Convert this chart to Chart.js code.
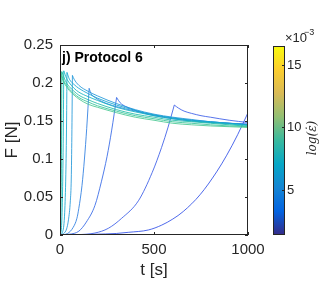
<!DOCTYPE html>
<html>
<head>
<meta charset="utf-8">
<script src="https://cdn.jsdelivr.net/npm/chart.js@4.4.1/dist/chart.umd.min.js"></script>
<style>
  html, body { margin: 0; padding: 0; background: #fff; }
  canvas { display: block; }
</style>
</head>
<body>
<canvas id="chart" width="328" height="293"></canvas>
<script>
// Axis ticks
const xTicks = [0, 500, 1000];
const yTicks = [0, 0.05, 0.1, 0.15, 0.2, 0.25];
const cbarTicks = [5, 10, 15];      // x 10^-3
const cbarRange = [1.4, 16.5];

// Curves, fastest ramp first (t in s, F in N)
const t2 = [0, 1, 2, 10, 20, 35, 50, 75, 100, 150, 200, 300, 400, 500, 600, 700, 800, 900, 1000];
const f2 = [0, 0.1, 0.213, 0.207, 0.201, 0.195, 0.19, 0.184, 0.179, 0.172, 0.168, 0.161, 0.155, 0.151, 0.147, 0.145, 0.1435, 0.1425, 0.1415];

const t5 = [0, 2, 4, 5, 10, 20, 35, 50, 75, 100, 150, 200, 300, 400, 500, 600, 700, 800, 900, 1000];
const f5 = [0, 0.03, 0.12, 0.215, 0.21, 0.203, 0.197, 0.192, 0.186, 0.181, 0.175, 0.17, 0.163, 0.157, 0.153, 0.149, 0.147, 0.145, 0.1435, 0.1425];

const t10 = [0, 4, 7, 9, 10, 20, 35, 50, 75, 100, 150, 200, 300, 400, 500, 600, 700, 800, 900, 1000];
const f10 = [0, 0.02, 0.08, 0.16, 0.215, 0.208, 0.2, 0.195, 0.189, 0.184, 0.178, 0.173, 0.165, 0.159, 0.155, 0.151, 0.149, 0.147, 0.145, 0.143];

const t20 = [0, 8, 13, 17, 20, 35, 50, 75, 100, 150, 200, 300, 400, 500, 600, 700, 800, 900, 1000];
const f20 = [0, 0.01, 0.05, 0.12, 0.216, 0.206, 0.2, 0.193, 0.188, 0.182, 0.177, 0.168, 0.162, 0.157, 0.153, 0.15, 0.148, 0.146, 0.144];

const t37 = [0, 15, 25, 31, 35, 37, 50, 75, 100, 150, 200, 300, 400, 500, 600, 700, 800, 900, 1000];
const f37 = [0, 0.005, 0.03, 0.08, 0.15, 0.214, 0.205, 0.198, 0.193, 0.186, 0.18, 0.171, 0.164, 0.158, 0.154, 0.151, 0.149, 0.147, 0.145];

const t65 = [0, 20, 35, 45, 55, 60, 63, 66, 75, 100, 150, 200, 300, 400, 500, 600, 700, 800, 900, 1000];
const f65 = [0, 0.002, 0.008, 0.02, 0.045, 0.075, 0.13, 0.21, 0.205, 0.197, 0.189, 0.183, 0.173, 0.165, 0.159, 0.155, 0.152, 0.149, 0.147, 0.145];

const t150 = [0, 40, 70, 90, 100, 117, 130, 142, 155, 165, 186, 220, 260, 300, 400, 500, 600, 700, 800, 900, 1000];
const f150 = [0, 0.002, 0.01, 0.022, 0.035, 0.065, 0.1, 0.14, 0.193, 0.186, 0.181, 0.176, 0.172, 0.169, 0.163, 0.158, 0.154, 0.151, 0.149, 0.147, 0.1455];

const t300 = [0, 50, 100, 140, 186, 220, 250, 275, 301, 320, 350, 400, 450, 500, 600, 700, 800, 900, 1000];
const f300 = [0, 0.001, 0.005, 0.017, 0.039, 0.07, 0.103, 0.138, 0.181, 0.174, 0.169, 0.164, 0.16, 0.157, 0.153, 0.15, 0.148, 0.147, 0.146];

const t600 = [0, 100, 186, 257, 328, 417, 490, 540, 575, 608, 630, 660, 700, 750, 800, 900, 1000];
const f600 = [0, 0.0005, 0.0026, 0.0088, 0.022, 0.045, 0.082, 0.115, 0.142, 0.171, 0.167, 0.163, 0.16, 0.157, 0.155, 0.151, 0.148];

const t1200 = [0, 100, 186, 300, 363, 470, 541, 600, 656, 745, 833, 887, 945, 1000];
const f1200 = [0, 0.0004, 0.001, 0.002, 0.0035, 0.0066, 0.013, 0.021, 0.031, 0.053, 0.083, 0.105, 0.132, 0.161];

const curveT = [t2, t5, t10, t20, t37, t65, t150, t300, t600, t1200];
const curveF = [f2, f5, f10, f20, f37, f65, f150, f300, f600, f1200];
const curveColors = ['rgba(69,200,144,0.85)', 'rgba(53,195,152,0.85)', 'rgba(32,188,168,0.85)',
                     'rgba(16,180,192,0.85)', 'rgba(20,166,208,0.85)', 'rgba(33,150,216,0.85)',
                     'rgba(43,124,224,0.85)', 'rgba(51,102,230,0.85)', 'rgba(58,92,232,0.85)',
                     'rgba(47,79,232,0.85)'];

const parula = ['#352a87', '#0363e1', '#1485d4', '#06a7c6', '#38b99e',
                '#92bf73', '#d9ba56', '#fcce2e', '#f9fb0e'];

const FONT = '"Liberation Sans", Arial, Helvetica, sans-serif';
const INK = '#262626';

// each curve = loading ramp + relaxation, split at the peak so the corner stays sharp
const datasets = [];
curveT.forEach((ts, i) => {
  const fs = curveF[i];
  const pts = ts.map((t, j) => ({ x: t, y: fs[j] }));
  const k = fs.indexOf(Math.max(...fs));
  [pts.slice(0, k + 1), pts.slice(k)].forEach(part => {
    if (part.length < 2) return;
    datasets.push({
      data: part,
      borderColor: curveColors[i],
      borderWidth: 1,
      pointRadius: 0,
      showLine: true,
      fill: false,
      cubicInterpolationMode: 'monotone'
    });
  });
});

const decor = {
  id: 'decor',
  afterDraw(chart) {
    const c = chart.ctx;
    const a = chart.chartArea;
    const xs = chart.scales.x, ys = chart.scales.y;
    c.save();
    // frame + inward ticks
    c.strokeStyle = INK;
    c.lineWidth = 1;
    c.strokeRect(a.left + 0.5, a.top + 0.5, a.right - a.left - 1, a.bottom - a.top - 1);
    c.beginPath();
    yTicks.forEach(v => {
      const y = Math.round(ys.getPixelForValue(v)) + 0.5;
      c.moveTo(a.left, y); c.lineTo(a.left + 3, y);
      c.moveTo(a.right, y); c.lineTo(a.right - 3, y);
    });
    xTicks.forEach(v => {
      const x = Math.round(xs.getPixelForValue(v)) + 0.5;
      c.moveTo(x, a.bottom); c.lineTo(x, a.bottom - 3);
      c.moveTo(x, a.top); c.lineTo(x, a.top + 3);
    });
    c.stroke();

    // panel label
    c.fillStyle = '#000';
    c.font = 'bold 14px ' + FONT;
    c.textBaseline = 'alphabetic';
    c.textAlign = 'left';
    c.fillText('j) Protocol 6', a.left + 2, a.top + 17);

    // colorbar
    const cx0 = 273, cx1 = 285, cy0 = 46, cy1 = 235;
    const g = c.createLinearGradient(0, cy1, 0, cy0);
    parula.forEach((col, i) => g.addColorStop(i / (parula.length - 1), col));
    c.fillStyle = g;
    c.fillRect(cx0, cy0, cx1 - cx0, cy1 - cy0);
    c.strokeStyle = INK;
    c.strokeRect(cx0 + 0.5, cy0 + 0.5, cx1 - cx0 - 1, cy1 - cy0 - 1);
    c.font = '13px ' + FONT;
    c.fillStyle = INK;
    c.textBaseline = 'middle';
    c.beginPath();
    cbarTicks.forEach(v => {
      const y = Math.round(cy1 - (v - cbarRange[0]) / (cbarRange[1] - cbarRange[0]) * (cy1 - cy0)) + 0.5;
      c.moveTo(cx1, y); c.lineTo(cx1 - 3, y);
      c.fillText(String(v), cx1 + 2, y);
    });
    c.stroke();
    // exponent
    c.font = '13px ' + FONT;
    c.fillText('\u00d710', 285, 38);
    c.font = '9px ' + FONT;
    c.fillText('\u22123', 304, 33);
    // colorbar label
    c.translate(313, 138);
    c.rotate(-Math.PI / 2);
    c.textAlign = 'center';
    c.font = 'italic 12px "DejaVu Serif", "Liberation Serif", serif';
    c.fillText('log(\u03b5\u0307)', 0, 0);
    c.restore();
  }
};

new Chart(document.getElementById('chart'), {
  type: 'scatter',
  data: { datasets },
  options: {
    responsive: false,
    animation: false,
    devicePixelRatio: 1,
    layout: { padding: { top: 45, right: 80, left: 0, bottom: 0 } },
    plugins: { legend: { display: false }, tooltip: { enabled: false } },
    scales: {
      x: {
        type: 'linear', min: 0, max: 1000,
        afterBuildTicks: s => { s.ticks = xTicks.map(v => ({ value: v })); },
        afterFit: s => { s.height = 58; },
        grid: { display: false, drawTicks: false },
        border: { display: false },
        ticks: { font: { family: FONT, size: 15 }, color: INK, padding: 6, maxRotation: 0, callback: v => String(v) },
        title: { display: true, text: 't [s]', color: INK, font: { family: FONT, size: 17 }, padding: { top: 0, bottom: 12 } }
      },
      y: {
        type: 'linear', min: 0, max: 0.25,
        afterBuildTicks: s => { s.ticks = yTicks.map(v => ({ value: v })); },
        afterFit: s => { s.width = 60; },
        grid: { display: false, drawTicks: false },
        border: { display: false },
        ticks: { font: { family: FONT, size: 15 }, color: INK, padding: 7, callback: v => String(v) },
        title: { display: true, text: 'F [N]', color: INK, font: { family: FONT, size: 17 }, padding: { top: 2, bottom: 0 } }
      }
    }
  },
  plugins: [decor]
});
</script>
</body>
</html>
